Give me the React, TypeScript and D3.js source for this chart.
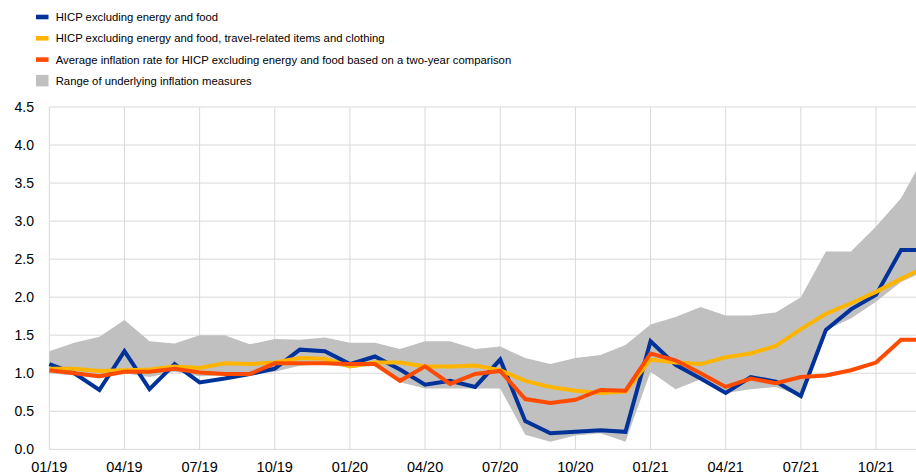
import * as d3 from 'd3';

// monthly observations, Jan 2019 - Dec 2021
const months = [
  '01/19', '02/19', '03/19', '04/19', '05/19', '06/19', '07/19', '08/19', '09/19', '10/19', '11/19', '12/19',
  '01/20', '02/20', '03/20', '04/20', '05/20', '06/20', '07/20', '08/20', '09/20', '10/20', '11/20', '12/20',
  '01/21', '02/21', '03/21', '04/21', '05/21', '06/21', '07/21', '08/21', '09/21', '10/21', '11/21', '12/21',
];
const tickLabels = ['01/19', '04/19', '07/19', '10/19', '01/20', '04/20', '07/20', '10/20', '01/21', '04/21', '07/21', '10/21'];
const yTicks = [0, 0.5, 1, 1.5, 2, 2.5, 3, 3.5, 4, 4.5];

const hicpx = [
  1.12, 1.0, 0.78, 1.29, 0.79, 1.12, 0.88, 0.93, 0.99, 1.06, 1.31, 1.29,
  1.12, 1.22, 1.05, 0.85, 0.9, 0.82, 1.18, 0.37, 0.21, 0.23, 0.25, 0.23,
  1.42, 1.11, 0.93, 0.74, 0.95, 0.89, 0.7, 1.57, 1.84, 2.03, 2.62, 2.62,
];
const hicpxTravel = [
  1.06, 1.06, 1.03, 1.04, 1.05, 1.09, 1.07, 1.13, 1.12, 1.14, 1.2, 1.19,
  1.09, 1.14, 1.14, 1.09, 1.09, 1.1, 1.04, 0.9, 0.82, 0.77, 0.74, 0.76,
  1.18, 1.14, 1.12, 1.21, 1.26, 1.36, 1.58, 1.78, 1.92, 2.07, 2.24, 2.4,
];
const twoYearAvg = [
  1.04, 1.0, 0.96, 1.02, 1.02, 1.06, 1.01, 0.99, 0.99, 1.13, 1.13, 1.13,
  1.12, 1.12, 0.9, 1.09, 0.86, 0.99, 1.03, 0.66, 0.61, 0.65, 0.78, 0.77,
  1.26, 1.17, 1.0, 0.82, 0.93, 0.87, 0.95, 0.97, 1.04, 1.14, 1.44, 1.44,
];
const rangeHigh = [
  1.29, 1.4, 1.48, 1.7, 1.42, 1.39, 1.5, 1.5, 1.38, 1.45, 1.44, 1.47,
  1.4, 1.4, 1.32, 1.42, 1.42, 1.32, 1.35, 1.2, 1.12, 1.2, 1.24, 1.37,
  1.64, 1.74, 1.87, 1.76, 1.76, 1.8, 2.0, 2.6, 2.6, 2.93, 3.3, 3.9,
];
const rangeLow = [
  1.0, 0.97, 0.93, 1.0, 0.95, 1.02, 0.96, 0.97, 0.98, 1.02, 1.1, 1.12,
  1.07, 1.1, 0.88, 0.8, 0.8, 0.8, 0.8, 0.19, 0.1, 0.18, 0.21, 0.1,
  1.02, 0.79, 0.92, 0.74, 0.79, 0.82, 0.7, 1.57, 1.72, 1.94, 2.2, 2.35,
];

const legendItems = [
  { label: 'HICP excluding energy and food', color: '#003299', kind: 'line' },
  { label: 'HICP excluding energy and food, travel-related items and clothing', color: '#FFB400', kind: 'line' },
  { label: 'Average inflation rate for HICP excluding energy and food based on a two-year comparison', color: '#FF4B00', kind: 'line' },
  { label: 'Range of underlying inflation measures', color: '#C0C0C0', kind: 'box' },
];

const W = 916;
const H = 474;
const font = '"Liberation Sans", Arial, sans-serif';

export default function App() {
  // plot runs past the right edge of the picture (last month is cut off)
  const x = d3.scalePoint<string>().domain(months).range([49.3, 926.1]);
  const y = d3.scaleLinear().domain([0, 4.5]).range([449.3, 107]);

  const line = d3.line<number>()
    .x((_, i) => x(months[i])!)
    .y(d => y(d));

  const area = d3.area<number>()
    .x((_, i) => x(months[i])!)
    .y0((_, i) => y(rangeLow[i]))
    .y1(d => y(d));

  const series = [
    { values: hicpx, color: '#003299' },
    { values: hicpxTravel, color: '#FFB400' },
    { values: twoYearAvg, color: '#FF4B00' },
  ];

  return (
    <svg width={W} height={H} style={{ position: 'absolute', left: 0, top: 0, background: '#fff' }}>
      {/* grid */}
      {yTicks.map(t => (
        <line key={'h' + t} x1={49.3} x2={W} y1={y(t)} y2={y(t)} stroke="#d9d9d9" strokeWidth={1} />
      ))}
      {tickLabels.map(m => (
        <line key={'v' + m} x1={x(m)} x2={x(m)} y1={y(4.5)} y2={y(0)} stroke="#d9d9d9" strokeWidth={1} />
      ))}

      <path d={area(rangeHigh)!} fill="#C0C0C0" />

      {series.map(s => (
        <path key={s.color} d={line(s.values)!} fill="none" stroke={s.color} strokeWidth={4} strokeLinejoin="miter" />
      ))}

      {/* axes labels */}
      {yTicks.map(t => (
        <text key={'yl' + t} x={34} y={y(t)} dy="0.36em" textAnchor="end" fontFamily={font} fontSize={14} fill="#000">
          {t.toFixed(1)}
        </text>
      ))}
      {tickLabels.map(m => (
        <text key={'xl' + m} x={x(m)} y={472} textAnchor="middle" fontFamily={font} fontSize={14.5} fill="#000">
          {m}
        </text>
      ))}

      {/* legend */}
      {legendItems.map((item, i) => {
        const cy = 17 + i * 21.3;
        return (
          <g key={item.label}>
            {item.kind === 'line'
              ? <rect x={36} y={cy - 2.3} width={12.5} height={4.6} fill={item.color} />
              : <rect x={36} y={cy - 6} width={12.5} height={11.5} fill={item.color} />}
            <text x={55.7} y={cy} dy="0.36em" fontFamily={font} fontSize={11.3} fill="#000">
              {item.label}
            </text>
          </g>
        );
      })}
    </svg>
  );
}
